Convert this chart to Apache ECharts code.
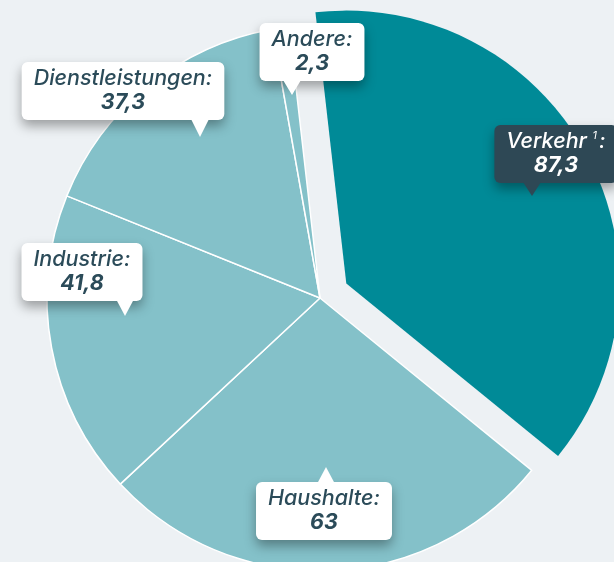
<!DOCTYPE html>
<html><head><meta charset="utf-8">
<script src="https://cdn.jsdelivr.net/npm/echarts@6/dist/echarts.min.js"></script>
<style>html,body{margin:0;padding:0;background:#edf1f4;}#c{width:614px;height:562px;}</style>
</head><body><div id="c"></div>
<script>
const categories = ['Verkehr', 'Haushalte', 'Industrie', 'Dienstleistungen', 'Andere'];
const values = [87.3, 63, 41.8, 37.3, 2.3];
const valueLabels = ['87,3', '63', '41,8', '37,3', '2,3'];

const labelPos = [[556, 154], [324, 511], [82, 272], [123, 91], [312, 52]];
const pointers = [
  [[523,182],[541,182],[532,196]],
  [[317,484],[335,484],[326,467]],
  [[116,299],[134,299],[125,316]],
  [[191,119],[209,119],[200,137]],
  [[283,80],[301,80],[292,95]]
];
const dark = '#2e4855', txt = '#2b4b59';
const FF = 'Inter';
const CX = 320, CY = 298, R = 273, START = 96.5, OFFSET = 30;
const total = values.reduce((a, b) => a + b, 0);
const midAng = (START - values[0] / total * 180) * Math.PI / 180;
const ox = OFFSET * Math.cos(midAng), oy = -OFFSET * Math.sin(midAng);

const chart = echarts.init(document.getElementById('c'));
const data = categories.map((c, i) => {
  const isV = i === 0;
  const col = isV ? '#fff' : txt;
  return {
    name: c, value: values[i],
    itemStyle: isV ? { color: 'rgba(0,0,0,0)', borderWidth: 0 } : { color: '#84c1c9' },
    label: {
      formatter: isV ? '{n|Verkehr }{s|1}{n|:}\n{v|' + valueLabels[i] + '}' : '{n|' + c + ':}\n{v|' + valueLabels[i] + '}',
      backgroundColor: isV ? dark : '#ffffff',
      rich: {
        n: { fontFamily: FF, fontStyle: 'italic', fontWeight: 500, fontSize: 21.5, color: col, lineHeight: 24 },
        s: { fontFamily: FF, fontStyle: 'italic', fontSize: 11, color: col, lineHeight: 24, verticalAlign: 'top', padding: [0, 2, 8, 0] },
        v: { fontFamily: FF, fontStyle: 'italic', fontWeight: 'bold', fontSize: 21.5, color: col, lineHeight: 24 }
      }
    }
  };
});
const data2 = [
  { name: 'Verkehr', value: values[0], itemStyle: { color: '#008a97' } },
  { name: 'rest', value: total - values[0], itemStyle: { color: 'rgba(0,0,0,0)' } }
];
chart.setOption({
  backgroundColor: '#edf1f4',
  animation: false,
  series: [{
    type: 'pie', z: 3,
    center: [CX, CY], radius: R, startAngle: START, clockwise: true,
    avoidLabelOverlap: false,
    itemStyle: { borderColor: '#ffffff', borderWidth: 1.5 },
    emphasis: { disabled: true },
    labelLine: { show: false },
    label: {
      show: true, position: 'outside', align: 'center',
      padding: [5, 12, 5, 12], borderRadius: 6,
      shadowBlur: 12, shadowOffsetY: 6, shadowColor: 'rgba(0,0,0,0.35)'
    },
    labelLayout: function (p) {
      const pos = labelPos[p.dataIndex];
      return { x: pos[0], y: pos[1], align: 'center', verticalAlign: 'middle', hideOverlap: false };
    },
    data: data
  }, {
    type: 'pie', z: 2, silent: true,
    center: [CX + ox, CY + oy], radius: R, startAngle: START, clockwise: true,
    itemStyle: { borderWidth: 0 },
    emphasis: { disabled: true },
    label: { show: false }, labelLine: { show: false },
    data: data2
  }],
  graphic: pointers.map((pts, i) => ({
    type: 'polygon', z: 100,
    shape: { points: pts },
    style: { fill: i === 0 ? dark : '#ffffff' }
  }))
});
</script></body></html>
